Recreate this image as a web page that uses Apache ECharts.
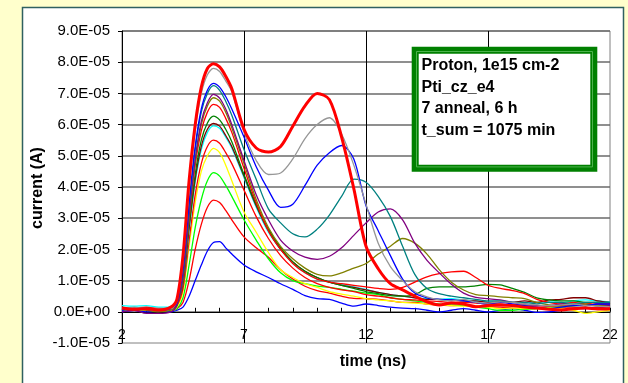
<!DOCTYPE html>
<html>
<head>
<meta charset="utf-8">
<script src="https://cdn.jsdelivr.net/npm/echarts@6/dist/echarts.min.js"></script>
<style>
  html, body { margin: 0; padding: 0; background: #FFFFCC; }
  #chart { width: 628px; height: 383px; }
</style>
</head>
<body>
<div id="chart"></div>
<script>
// Sampling times (ns)
const timeNs = [2, 2.5, 3, 3.5, 4, 4.25, 4.5, 4.75, 5, 5.25, 5.5, 5.75, 6, 6.25, 6.5,
  7, 7.5, 8, 8.5, 9, 9.5, 10, 10.5, 11, 11.5, 12, 12.5, 13, 13.5, 14, 14.5, 15, 15.5,
  16, 16.5, 17, 17.5, 18, 18.5, 19, 19.5, 20, 20.5, 21, 21.5, 22];

// Current pulses, in units of 1e-5 A, one array per annealing step
const stepA = [0.0,0.05,0.0,0.02,0.0, 0.05,0.15,0.5,1.0,1.5,1.95,2.22,2.25,2.05,1.85,
  1.5,1.28,1.1,0.9,0.72,0.52,0.42,0.4,0.28,0.18, 0.25,0.2,0.15,0.12,0.1,0.05,0.0,0.05,0.1,0.05,
  0.0,0.05,0.1,0.05,-0.02,0.0,0.05,0.1,0.1,0.15, 0.1];
const stepB = [0.05,0.1,0.08,0.05,0.05, 0.1,0.3,1.0,2.0,2.8,3.35,3.58,3.5,3.25,2.95,
  2.4,2.05,1.75,1.35,1.05,0.82,0.68,0.6,0.5,0.43, 0.42,0.4,0.35,0.3,0.3,0.25,0.22,0.2,0.22,0.2,
  0.15,0.15,0.12,0.1,0.12,0.1,0.15,0.15,0.12,0.15, 0.15];
const stepC = [0.05,0.08,0.05,0.1,0.05, 0.1,0.45,1.5,2.7,3.6,4.2,4.46,4.35,4.05,3.7,
  2.95,2.3,1.7,1.25,1.0,0.9,0.82,0.78,0.72,0.66, 0.6,0.55,0.45,0.4,0.35,0.3,0.25,0.22,0.2,0.15,
  0.1,0.05,0.05,0.08,0.1,0.15,0.15,0.2,0.2,0.25, 0.25];
const stepD = [0.05,0.1,0.05,0.08,0.05, 0.15,0.65,2.1,3.5,4.5,5.0,5.24,5.1,4.7,4.2,
  3.2,2.55,1.9,1.35,1.1,0.9,0.78,0.65,0.57,0.5, 0.42,0.38,0.35,0.3,0.28,0.25,0.22,0.2,0.18,0.2,
  0.15,0.1,0.12,0.1,0.1,0.12,0.1,0.05,-0.05,0.0, 0.05];
const stepE = [0.1,0.05,0.1,0.08,0.1, 0.2,0.75,2.3,3.75,4.75,5.3,5.5,5.4,5.1,4.75,
  3.9,3.05,2.35,1.8,1.4,1.1,0.9,0.78,0.7,0.65, 0.55,0.5,0.45,0.4,0.38,0.35,0.33,0.3,0.3,0.28,
  0.25,0.25,0.2,0.22,0.2,0.18,0.2,0.22,0.2,0.25, 0.2];
const stepF = [0.2,0.18,0.2,0.15,0.15, 0.3,0.9,2.6,4.15,5.2,5.75,5.96,5.88,5.6,5.25,
  4.3,3.35,2.55,2.0,1.55,1.25,1.05,0.95,0.88,0.8, 0.72,0.62,0.55,0.5,0.45,0.42,0.4,0.42,0.38,0.35,
  0.32,0.3,0.3,0.28,0.3,0.32,0.3,0.35,0.38,0.35, 0.32];
const stepG = [0.1,0.12,0.08,0.1,0.12, 0.25,0.9,2.7,4.25,5.3,5.85,6.04,5.95,5.65,5.3,
  4.35,3.4,2.6,2.0,1.6,1.3,1.1,0.95,0.85,0.78, 0.7,0.62,0.55,0.5,0.45,0.4,0.4,0.38,0.35,0.35,
  0.3,0.32,0.3,0.35,0.3,0.38,0.4,0.45,0.45,0.35, 0.3];
const stepH = [0.1,0.05,0.1,0.1,0.1, 0.25,1.0,2.8,4.4,5.5,6.05,6.27,6.15,5.85,5.45,
  4.4,3.45,2.65,2.05,1.6,1.3,1.1,0.95,0.85,0.75, 0.65,0.58,0.52,0.5,0.55,0.75,0.8,0.8,0.8,0.83,
  0.88,0.86,0.75,0.62,0.45,0.38,0.35,0.35,0.3,0.3, 0.25];
const stepI = [0.1,0.12,0.15,0.1,0.1, 0.25,1.1,3.0,4.7,5.8,6.4,6.65,6.55,6.2,5.75,
  4.6,3.5,2.6,2.0,1.55,1.25,1.05,0.95,0.9,0.85, 0.8,0.75,0.72,0.78,0.95,1.12,1.22,1.28,1.3,1.1,
  0.85,0.75,0.68,0.58,0.4,0.3,0.25,0.3,0.25,0.3, 0.25];
const stepJ = [0.05,0.1,0.05,0.0,0.05, 0.2,1.0,3.0,4.8,6.0,6.6,6.86,6.75,6.4,5.9,
  4.75,3.6,2.7,2.1,1.7,1.4,1.2,1.15,1.25,1.4, 1.55,1.85,2.1,2.35,2.2,1.85,1.35,0.95,0.7,0.55,
  0.52,0.48,0.45,0.42,0.3,0.22,0.18,0.2,0.25,0.2, 0.2];
const stepK = [0.0,0.05,-0.05,-0.05,0.0, 0.2,1.1,3.1,4.9,6.1,6.7,6.97,6.85,6.5,6.0,
  4.85,3.75,2.95,2.3,1.95,1.75,1.68,1.78,2.05,2.45, 2.85,3.2,3.3,2.95,2.2,1.65,1.25,0.88,0.6,0.46,
  0.42,0.38,0.3,0.25,0.2,0.2,0.25,0.25,0.2,0.25, 0.2];
const stepL = [0.15,0.1,0.12,0.08,0.1, 0.3,1.3,3.4,5.2,6.4,7.0,7.25,7.1,6.75,6.3,
  5.2,4.25,3.3,2.85,2.5,2.4,2.65,3.1,3.7,4.25, 4.15,3.7,3.05,2.1,1.2,0.75,0.58,0.5,0.45,0.4,
  0.35,0.35,0.3,0.3,0.25,0.3,0.3,0.25,0.3,0.3, 0.3];
const stepM = [0.05,0.1,0.08,0.05,0.1, 0.3,1.4,3.5,5.3,6.5,7.1,7.32,7.2,6.9,6.5,
  5.6,4.65,3.9,3.35,3.45,4.05,4.7,5.1,5.33,4.9, 3.4,2.6,1.8,1.05,0.6,0.45,0.4,0.38,0.35,0.3,
  0.25,0.3,0.25,0.2,0.15,0.1,0.15,0.2,0.2,0.25, 0.25];
const stepN = [0.1,0.15,0.1,0.12,0.1, 0.35,1.6,3.9,5.8,7.0,7.6,7.8,7.7,7.4,7.05,
  5.75,4.85,4.4,4.45,4.9,5.55,6.0,6.22,5.7,4.7, 3.45,2.2,1.45,1.0,0.65,0.48,0.38,0.35,0.4,0.3,
  0.28,0.32,0.3,0.25,0.22,0.2,0.22,0.25,0.2,0.18, 0.15];
const stepFinal = [0.12,0.08,0.1,0.06,0.15, 0.4,1.8,4.2,6.0,7.2,7.8,7.95,7.85,7.55,7.15,
  5.85,5.25,5.12,5.3,5.95,6.6,7.0,6.8,5.6,3.95, 2.1,1.38,0.9,0.7,0.5,0.32,0.22,0.28,0.25,0.16,
  0.2,0.22,0.2,0.15,0.12,0.08,0.06,0.1,0.12,0.09, 0.1];

// Axis ticks
const yTicks = { min: -1, max: 9, step: 1 };
const xTicks = { min: 2, max: 22, step: 5 };

const infoLines = ['Proton, 1e15 cm-2', 'Pti_cz_e4', '7 anneal, 6 h', 't_sum = 1075 min'];

const curves = [
  { data: stepA, color: '#0000FF' },
  { data: stepB, color: '#FF0000' },
  { data: stepC, color: '#00FF00' },
  { data: stepD, color: '#FFFF00' },
  { data: stepE, color: '#FF0000' },
  { data: stepF, color: '#00FFFF' },
  { data: stepG, color: '#800000' },
  { data: stepH, color: '#008000' },
  { data: stepI, color: '#FF0000' },
  { data: stepJ, color: '#808000' },
  { data: stepK, color: '#800080' },
  { data: stepL, color: '#008080' },
  { data: stepM, color: '#0000FF' },
  { data: stepN, color: '#969696' },
  { data: stepFinal, color: '#FF0000', width: 3 }
];

const FONT = '"Liberation Sans", Arial, Helvetica, sans-serif';
const GRID = { left: 122, right: 18, top: 31, bottom: 40 };
const plotHeight = 383 - GRID.top - GRID.bottom;
// the time axis sits on the zero-current line
const zeroOffset = -plotHeight * (0 - yTicks.min) / (yTicks.max - yTicks.min);

const chart = echarts.init(document.getElementById('chart'), null, { renderer: 'canvas' });

const series = curves.map((c, k) => ({
  type: 'line',
  data: timeNs.map((t, i) => [t, c.data[i]]),
  showSymbol: false,
  smooth: 0.3,
  z: 2 + k,
  lineStyle: { color: c.color, width: c.width || 1.3 },
  itemStyle: { color: c.color },
  emphasis: { disabled: true }
}));

chart.setOption({
  animation: false,
  backgroundColor: '#FFFFCC',
  grid: Object.assign({
    show: true, backgroundColor: '#FFFFFF', borderColor: '#808080', borderWidth: 1
  }, GRID),
  xAxis: {
    type: 'value',
    position: 'bottom',
    offset: zeroOffset,
    min: xTicks.min, max: xTicks.max, interval: xTicks.step,
    axisLine: { onZero: false, lineStyle: { color: '#000', width: 1 } },
    axisTick: { show: true, inside: true, length: 4, lineStyle: { color: '#000' } },
    minorTick: { show: true, splitNumber: 5, length: 4, lineStyle: { color: '#000' } },
    axisLabel: { margin: 16, color: '#000', fontSize: 14, fontFamily: FONT, showMinLabel: true, showMaxLabel: true },
    splitLine: { show: true, showMinLine: false, showMaxLine: false, lineStyle: { color: '#000', width: 1 } }
  },
  yAxis: {
    type: 'value',
    min: yTicks.min, max: yTicks.max, interval: yTicks.step,
    axisLine: { show: true, onZero: false, lineStyle: { color: '#000', width: 1 } },
    axisTick: { show: true, length: 4, lineStyle: { color: '#000' } },
    axisLabel: {
      margin: 12, color: '#000', fontSize: 15, fontFamily: FONT,
      formatter: v => (v === 0 ? '0.0E+00' : v.toFixed(1) + 'E-05')
    },
    splitLine: { show: true, showMinLine: false, lineStyle: { color: '#6a6a6a', width: 1.5 } }
  },
  graphic: [
    {
      type: 'rect', z: -10, silent: true,
      shape: { x: 22.5, y: 7.5, width: 601, height: 400 },
      style: { fill: '#FFFFFF', stroke: '#2F6060', lineWidth: 1.5 }
    },
    {
      type: 'text', z: 10, silent: true,
      x: 38, y: 188, rotation: Math.PI / 2,
      style: { text: 'current (A)', x: 0, y: 0, align: 'center', verticalAlign: 'middle',
        fill: '#000', font: 'bold 16px ' + FONT }
    },
    {
      type: 'text', z: 10, silent: true,
      x: 373, y: 362,
      style: { text: 'time (ns)', x: 0, y: 0, align: 'center', verticalAlign: 'middle',
        fill: '#000', font: 'bold 16px ' + FONT }
    },
    {
      type: 'rect', z: 100, silent: true,
      shape: { x: 415.2, y: 50.2, width: 178.6, height: 118 },
      style: { fill: '#FFFFFF', stroke: '#008000', lineWidth: 7 }
    },
    {
      type: 'rect', z: 101, silent: true,
      shape: { x: 416.5, y: 51.5, width: 176, height: 115.4 },
      style: { fill: null, stroke: '#4DB34D', lineWidth: 1 }
    },
    {
      type: 'text', z: 102, silent: true,
      x: 421.5, y: 55,
      style: { text: infoLines.join('\n'), x: 0, y: 0, align: 'left', verticalAlign: 'top',
        lineHeight: 21.5, fill: '#000', font: 'bold 16px ' + FONT }
    }
  ],
  series: series
});
</script>
</body>
</html>
